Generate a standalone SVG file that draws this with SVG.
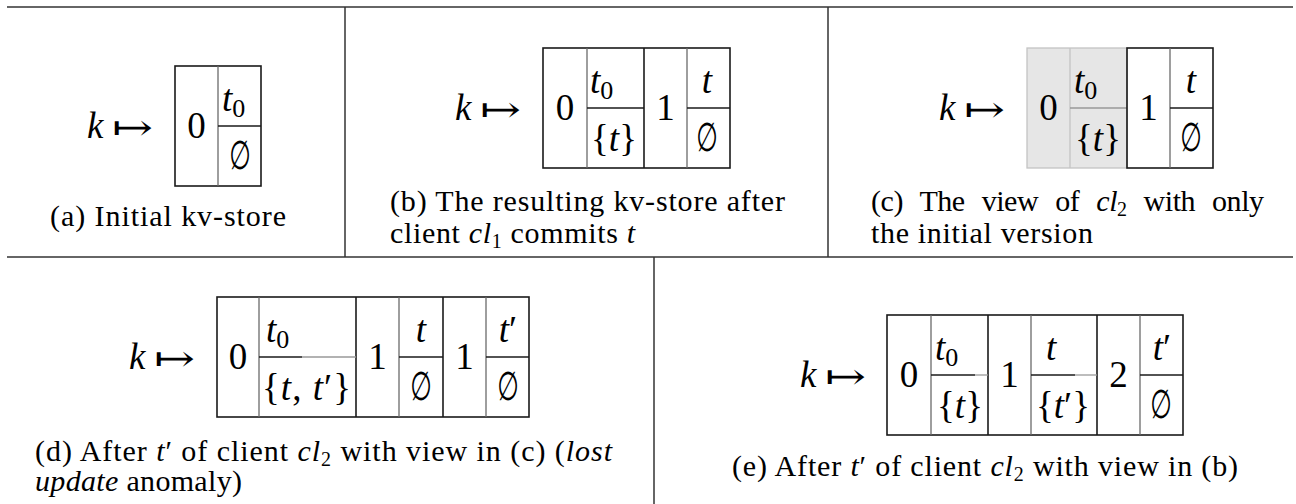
<svg xmlns="http://www.w3.org/2000/svg" width="1296" height="504" viewBox="0 0 1296 504">
<style>
.fr{stroke:#333;stroke-width:1.5;fill:none}
.bx{fill:none;stroke:#1a1a1a;stroke-width:1.6}
.dk{stroke:#1a1a1a;stroke-width:1.6}
.gy{stroke:#6a6a6a;stroke-width:1.3}
.lg{stroke:#999;stroke-width:1.3}
.sh{stroke:#c4c4c4;stroke-width:1.3}
.m{font-family:'Liberation Serif',serif;font-size:37px;fill:#000}
.i{font-style:italic}
.c{text-anchor:middle}
.sub{font-size:26px}
.arr{font-family:'DejaVu Serif',serif;font-size:36px;fill:#000}
.es{font-family:'DejaVu Sans',sans-serif;font-size:40px;fill:#000;text-anchor:middle}
.cap{font-family:'Liberation Serif',serif;font-size:30px;fill:#000}
.cs{font-size:20px}
</style>
<g id="frame">
<line class="fr" x1="7" y1="7" x2="1293" y2="7"/>
<line class="fr" x1="7" y1="257" x2="1293" y2="257"/>
<line class="fr" x1="345" y1="7" x2="345" y2="257"/>
<line class="fr" x1="828" y1="7" x2="828" y2="257"/>
<line class="fr" x1="654" y1="257" x2="654" y2="504"/>
</g>
<g id="fig-a">
<text class="m i" x="87" y="138">k</text>
<text class="arr" x="112" y="140" textLength="41" lengthAdjust="spacingAndGlyphs">↦</text>
<rect class="bx" x="175" y="66" width="86" height="120"/>
<line class="gy" x1="218" y1="66" x2="218" y2="186"/>
<line class="dk" x1="218" y1="126" x2="261" y2="126"/>
<text class="m c" x="196.5" y="138">0</text>
<text class="m" x="222" y="111"><tspan class="i">t</tspan><tspan class="sub" dy="6">0</tspan></text>
<text class="es" x="240" y="169" transform="translate(240 0) scale(0.62 1) translate(-240 0)">∅</text>
<text class="cap" x="50" y="226" textLength="236">(a) Initial kv-store</text>
</g>
<g id="fig-b">
<text class="m i" x="455" y="120">k</text>
<text class="arr" x="480" y="122" textLength="41" lengthAdjust="spacingAndGlyphs">↦</text>
<rect class="bx" x="543" y="48" width="187" height="120"/>
<line class="gy" x1="587" y1="48" x2="587" y2="168"/>
<line class="dk" x1="644" y1="48" x2="644" y2="168"/>
<line class="gy" x1="687" y1="48" x2="687" y2="168"/>
<line class="dk" x1="587" y1="108" x2="644" y2="108"/>
<line class="dk" x1="687" y1="108" x2="730" y2="108"/>
<text class="m c" x="565" y="120">0</text>
<text class="m c" x="665.5" y="120">1</text>
<text class="m" x="590" y="93"><tspan class="i">t</tspan><tspan class="sub" dy="6">0</tspan></text>
<text class="m c" x="614" y="151">{<tspan class="i">t</tspan>}</text>
<text class="m c i" x="707" y="93">t</text>
<text class="es" x="707" y="151" transform="translate(707 0) scale(0.62 1) translate(-707 0)">∅</text>
<text class="cap" x="390" y="211" textLength="395">(b) The resulting kv-store after</text>
<text class="cap" x="390" y="243" textLength="245">client <tspan class="i">cl</tspan><tspan class="cs" dy="5">1</tspan><tspan dy="-5"> commits </tspan><tspan class="i">t</tspan></text>
</g>
<g id="fig-c">
<text class="m i" x="939" y="120">k</text>
<text class="arr" x="964" y="122" textLength="41" lengthAdjust="spacingAndGlyphs">↦</text>
<rect x="1027" y="48" width="100" height="120" fill="#e6e6e6" stroke="#c4c4c4" stroke-width="1.3"/>
<line class="sh" x1="1070" y1="48" x2="1070" y2="168"/>
<line class="lg" x1="1070" y1="108" x2="1127" y2="108"/>
<rect class="bx" x="1127" y="48" width="86" height="120"/>
<line class="gy" x1="1170" y1="48" x2="1170" y2="168"/>
<line class="dk" x1="1170" y1="108" x2="1213" y2="108"/>
<text class="m c" x="1048.5" y="120">0</text>
<text class="m c" x="1148.5" y="120">1</text>
<text class="m" x="1074" y="93"><tspan class="i">t</tspan><tspan class="sub" dy="6">0</tspan></text>
<text class="m c" x="1098" y="151">{<tspan class="i">t</tspan>}</text>
<text class="m c i" x="1191" y="93">t</text>
<text class="es" x="1191" y="151" transform="translate(1191 0) scale(0.62 1) translate(-1191 0)">∅</text>
<text class="cap" x="871" y="211" textLength="393" word-spacing="10">(c) The view of <tspan class="i">cl</tspan><tspan class="cs" dy="5">2</tspan><tspan dy="-5"> with only</tspan></text>
<text class="cap" x="871" y="243" textLength="222">the initial version</text>
</g>
<g id="fig-d">
<text class="m i" x="129" y="369">k</text>
<text class="arr" x="154" y="371" textLength="41" lengthAdjust="spacingAndGlyphs">↦</text>
<rect class="bx" x="217" y="297" width="312" height="120"/>
<line class="gy" x1="259" y1="297" x2="259" y2="417"/>
<line class="dk" x1="356" y1="297" x2="356" y2="417"/>
<line class="gy" x1="399" y1="297" x2="399" y2="417"/>
<line class="dk" x1="443" y1="297" x2="443" y2="417"/>
<line class="gy" x1="486" y1="297" x2="486" y2="417"/>
<line class="dk" x1="259" y1="357" x2="302" y2="357"/>
<line class="lg" x1="302" y1="357" x2="356" y2="357"/>
<line class="dk" x1="399" y1="357" x2="443" y2="357"/>
<line class="dk" x1="486" y1="357" x2="529" y2="357"/>
<text class="m c" x="238" y="369">0</text>
<text class="m c" x="377.5" y="369">1</text>
<text class="m c" x="464.5" y="369">1</text>
<text class="m" x="266" y="342"><tspan class="i">t</tspan><tspan class="sub" dy="6">0</tspan></text>
<text class="m" x="262" y="400" textLength="89">{<tspan class="i">t</tspan>, <tspan class="i">t</tspan>′}</text>
<text class="m c i" x="421" y="342">t</text>
<text class="es" x="421" y="400" transform="translate(421 0) scale(0.62 1) translate(-421 0)">∅</text>
<text class="m c" x="508" y="342"><tspan class="i">t</tspan>′</text>
<text class="es" x="508" y="400" transform="translate(508 0) scale(0.62 1) translate(-508 0)">∅</text>
<text class="cap" x="35" y="461" textLength="577">(d) After <tspan class="i">t</tspan>′ of client <tspan class="i">cl</tspan><tspan class="cs" dy="5">2</tspan><tspan dy="-5"> with view in (c) (</tspan><tspan class="i">lost</tspan></text>
<text class="cap" x="35" y="491" textLength="207"><tspan class="i">update</tspan> anomaly)</text>
</g>
<g id="fig-e">
<text class="m i" x="800" y="387">k</text>
<text class="arr" x="825" y="389" textLength="41" lengthAdjust="spacingAndGlyphs">↦</text>
<rect class="bx" x="887" y="315" width="296" height="120"/>
<line class="gy" x1="931" y1="315" x2="931" y2="435"/>
<line class="dk" x1="988" y1="315" x2="988" y2="435"/>
<line class="gy" x1="1031" y1="315" x2="1031" y2="435"/>
<line class="dk" x1="1097" y1="315" x2="1097" y2="435"/>
<line class="gy" x1="1140" y1="315" x2="1140" y2="435"/>
<line class="dk" x1="931" y1="375" x2="975" y2="375"/>
<line class="lg" x1="975" y1="375" x2="988" y2="375"/>
<line class="dk" x1="1031" y1="375" x2="1075" y2="375"/>
<line class="lg" x1="1075" y1="375" x2="1097" y2="375"/>
<line class="dk" x1="1140" y1="375" x2="1183" y2="375"/>
<text class="m c" x="909" y="387">0</text>
<text class="m c" x="1009.5" y="387">1</text>
<text class="m c" x="1118.5" y="387">2</text>
<text class="m" x="935" y="360"><tspan class="i">t</tspan><tspan class="sub" dy="6">0</tspan></text>
<text class="m c" x="960" y="418">{<tspan class="i">t</tspan>}</text>
<text class="m i" x="1046" y="360">t</text>
<text class="m c" x="1063" y="418">{<tspan class="i">t</tspan>′}</text>
<text class="m c" x="1162" y="360"><tspan class="i">t</tspan>′</text>
<text class="es" x="1161" y="418" transform="translate(1161 0) scale(0.62 1) translate(-1161 0)">∅</text>
<text class="cap" x="732" y="476" textLength="506">(e) After <tspan class="i">t</tspan>′ of client <tspan class="i">cl</tspan><tspan class="cs" dy="5">2</tspan><tspan dy="-5"> with view in (b)</tspan></text>
</g>
</svg>
